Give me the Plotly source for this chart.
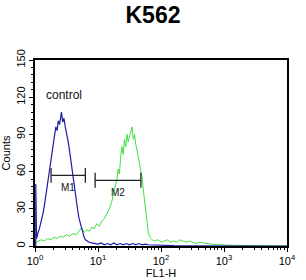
import math
import plotly.graph_objects as go

# ---------------- data (log10 FL1-H, counts) ----------------
blue_logx = [0.012, 0.012, 0.025, 0.04, 0.05, 0.07, 0.09, 0.11, 0.13, 0.15, 0.17, 0.19, 0.21, 0.23,
             0.25, 0.27, 0.29, 0.31, 0.33, 0.35, 0.37, 0.39, 0.41, 0.42, 0.44, 0.46, 0.48,
             0.50, 0.52, 0.54, 0.56, 0.58, 0.60, 0.62, 0.64, 0.66, 0.68, 0.70, 0.72, 0.74,
             0.76, 0.78, 0.80, 0.83, 0.86, 0.90, 0.95, 1.0, 1.05, 1.1, 1.15, 1.2, 1.25, 1.3,
             1.35, 1.4, 1.45, 1.5, 1.55, 1.6, 1.65, 1.7, 1.75, 1.8, 1.9, 2.0, 2.1, 2.2, 2.4,
             2.6, 2.8, 3.0, 3.5, 4.0]
blue_counts = [0, 50, 6, 8, 11, 14, 18, 21, 27, 33, 40, 47, 54, 60,
               66, 74, 82, 90, 96, 93, 101, 98, 104, 108, 100, 103, 96,
               92, 86, 80, 72, 64, 57, 50, 42, 35, 28, 22, 18, 14,
               10, 7, 5, 4, 3, 2.5, 2, 1.5, 2.5, 1, 2, 1, 2.5, 1,
               2, 1, 2, 1, 2, 1, 2, 1, 1.5, 1, 0.8, 0.5, 0.5, 0.3, 0.2,
               0.1, 0, 0, 0, 0]

green_logx = [0.0, 0.05, 0.1, 0.15, 0.2, 0.25, 0.3, 0.35, 0.4, 0.45, 0.5, 0.55, 0.6, 0.65,
              0.7, 0.74, 0.78, 0.82, 0.86, 0.9, 0.94, 0.98, 1.02, 1.06, 1.1, 1.14, 1.18,
              1.22, 1.26, 1.28, 1.30, 1.32, 1.34, 1.36, 1.38, 1.40, 1.42, 1.44, 1.46, 1.48,
              1.50, 1.52, 1.54, 1.56, 1.58, 1.60, 1.62, 1.64, 1.66, 1.68, 1.70, 1.72, 1.74,
              1.76, 1.78, 1.80, 1.83, 1.86, 1.9, 1.95, 2.0, 2.05, 2.1, 2.15, 2.2, 2.25, 2.3,
              2.35, 2.4, 2.45, 2.5, 2.55, 2.6, 2.7, 2.8, 2.9, 3.0, 3.2, 3.5, 4.0]
green_counts = [2, 4, 5, 4, 6, 5, 7, 6, 8, 7, 9, 8, 10, 9,
                12, 15, 11, 13, 12, 15, 14, 18, 16, 20, 22, 26, 30,
                36, 44, 48, 54, 62, 58, 72, 80, 74, 86, 80, 90, 84,
                88, 92, 96, 86, 90, 82, 78, 72, 66, 60, 55, 45, 35,
                25, 16, 10, 7, 5, 4, 5, 3, 4, 5, 3, 4, 3, 5,
                4, 3, 4, 3, 2, 3, 2, 1.5, 1, 1, 0.5, 0.3, 0]

marker_names = ["M1", "M2"]
marker_start = [1.8, 9.0]
marker_end = [6.3, 48.0]
marker_level = [57, 53]

y_ticks = [0, 30, 60, 90, 120, 150]
x_ticks = [1, 10, 100, 1000, 10000]
x_ticktext = ["10<sup>0</sup>", "10<sup>1</sup>", "10<sup>2</sup>", "10<sup>3</sup>", "10<sup>4</sup>"]
x_minor = [m * 10 ** k for k in range(4) for m in range(2, 10)]

BLUE = "#1c1ca8"
GREEN = "#3ee03e"
FONT = "Arial"

fig = go.Figure()
fig.add_trace(go.Scatter(x=[10 ** v for v in green_logx], y=green_counts, mode="lines",
                         line=dict(color=GREEN, width=1), showlegend=False, hoverinfo="skip"))
fig.add_trace(go.Scatter(x=[10 ** v for v in blue_logx], y=blue_counts, mode="lines",
                         line=dict(color=BLUE, width=1.2), showlegend=False, hoverinfo="skip"))

for name, a, b, lvl in zip(marker_names, marker_start, marker_end, marker_level):
    cap = 6
    fig.add_trace(go.Scatter(x=[a, b], y=[lvl, lvl], mode="lines",
                             line=dict(color="#222", width=1.3), showlegend=False, hoverinfo="skip"))
    for xv in (a, b):
        fig.add_trace(go.Scatter(x=[xv, xv], y=[lvl - cap, lvl + cap], mode="lines",
                                 line=dict(color="#222", width=1.3), showlegend=False, hoverinfo="skip"))
    gm = math.log10((a * b) ** 0.5)
    fig.add_annotation(x=gm, y=lvl - 4, text=name, showarrow=False,
                       yanchor="top", font=dict(family=FONT, size=10, color="#111"))

fig.add_annotation(xref="paper", yref="paper", x=0.035, y=0.86, text="control", showarrow=False,
                   xanchor="left", font=dict(family=FONT, size=12, color="#111"))

fig.update_layout(
    width=306, height=280,
    margin=dict(l=35, r=19, t=60, b=34),
    paper_bgcolor="white", plot_bgcolor="white",
    title=dict(text="<b>K562</b>", x=0.5, xanchor="center", y=0.945, yanchor="middle",
               font=dict(family=FONT, size=23, color="black")),
    xaxis=dict(type="log", range=[0, 4], tickvals=x_ticks, ticktext=x_ticktext,
               ticks="outside", ticklen=4, tickwidth=1, tickcolor="black",
               minor=dict(tickvals=x_minor, ticks="outside", ticklen=2, tickcolor="black"),
               showline=True, linecolor="black", linewidth=1.5, mirror=True,
               showgrid=False, zeroline=False, automargin=False,
               title=dict(text="FL1-H", font=dict(family=FONT, size=11, color="black"), standoff=1),
               tickfont=dict(family=FONT, size=11, color="black")),
    yaxis=dict(range=[0, 150], tickvals=y_ticks, tickangle=-90,
               ticks="outside", ticklen=4, tickcolor="black",
               minor=dict(dtick=6, ticks="outside", ticklen=2, tickcolor="black"),
               showline=True, linecolor="black", linewidth=1.5, mirror=True,
               showgrid=False, zeroline=False, automargin=False,
               title=dict(text="Counts", font=dict(family=FONT, size=11, color="black"), standoff=2),
               tickfont=dict(family=FONT, size=11, color="black")),
)

fig.write_html("out.html")
